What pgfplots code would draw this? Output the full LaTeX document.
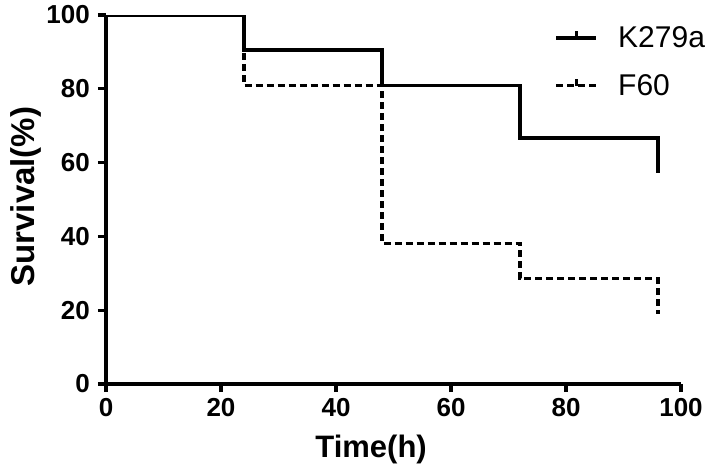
\documentclass[border=0pt]{standalone}
\usepackage{fontspec}
\setmainfont{Liberation Sans}
\usepackage{pgfplots}
\pgfplotsset{compat=1.18}

% survival steps (fraction of 21 animals)
\pgfplotstableread{
t   s
0   100
24  90.48
48  80.95
72  66.67
96  57.14
}\kdata
\pgfplotstableread{
t   s
0   100
24  80.95
48  38.10
72  28.57
96  19.05
}\fdata

\begin{document}
\begin{tikzpicture}
% page frame, 1pt = 1px of the reference
\useasboundingbox (-106pt,-85pt) rectangle (602pt,384pt);
\begin{axis}[
    at={(0,0)}, anchor=south west,
    scale only axis,
    width=575pt, height=369pt,
    xmin=0, xmax=100, ymin=0, ymax=100,
    xtick={0,20,...,100}, ytick={0,20,...,100},
    axis x line*=bottom, axis y line*=left,
    axis line style={line width=3.4pt, -},
    tick style={line width=3.2pt, black},
    tick align=outside, major tick length=8pt,
    /pgf/number format/assume math mode=true,
    tick label style={font=\bfseries\fontsize{26}{26}\selectfont},
    xticklabel style={inner ysep=6pt, inner xsep=0pt},
    yticklabel style={inner xsep=8pt, inner ysep=0pt},
    xlabel={Time(h)}, ylabel={Survival(\%)},
    xlabel style={font=\bfseries\fontsize{31}{31}\selectfont,
        at={([yshift=-73pt]axis description cs:0.461,0)}, anchor=base},
    ylabel style={font=\bfseries\fontsize{33}{33}\selectfont,
        at={([xshift=-71pt]axis description cs:0,0.508)}, anchor=base},
    legend cell align=left,
    legend style={at={(axis description cs:1.042,0.968)}, anchor=north east,
        draw=none, fill=none, font=\fontsize{30}{30}\selectfont,
        row sep=25pt, column sep=0pt, inner sep=0pt,
        nodes={inner sep=0pt}},
    legend image code/.code={
        \draw[#1] (0pt,0pt) -- (40pt,0pt);
        \draw[#1, solid] (20pt,0pt) -- (20pt,7pt);
        \path (60pt,0pt);
    },
]
\addplot[const plot, line width=3.5pt, black] table[x=t, y=s] {\kdata};
\addlegendentry{K279a}
\addplot[const plot, line width=3.5pt, black, dash pattern=on 7pt off 4pt] table[x=t, y=s] {\fdata};
\addlegendentry{F60}
\end{axis}
\end{tikzpicture}
\end{document}
